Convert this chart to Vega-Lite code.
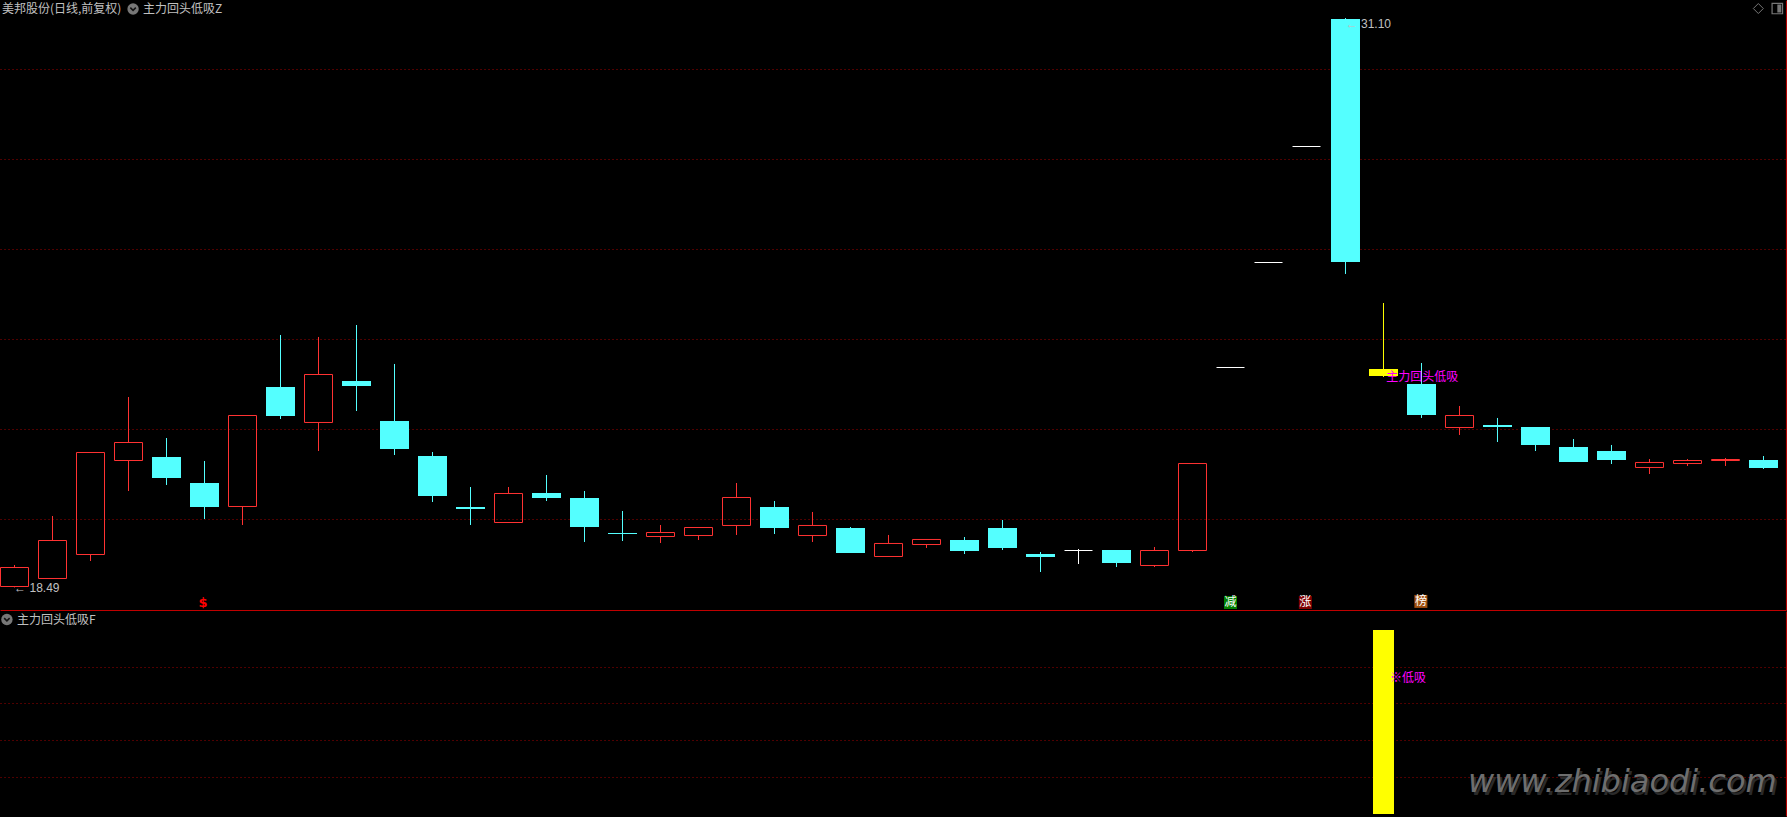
{
"$schema":"https://vega.github.io/schema/vega-lite/v6.json",
"background":"#000000","padding":{"left":0,"right":0,"top":0,"bottom":0},"spacing":0,"bounds":"flush",
"config":{"view":{"stroke":null},"concat":{"spacing":0},"text":{"font":"Noto Sans CJK SC"}},
"datasets":{
"k":[
{"i":0,"k":"up","h":18.989,"t":18.933,"b":18.511,"l":18.49},
{"i":1,"k":"up","h":20.078,"t":19.533,"b":18.689,"l":18.689},
{"i":2,"k":"up","h":21.489,"t":21.489,"b":19.222,"l":19.078},
{"i":3,"k":"up","h":22.722,"t":21.711,"b":21.311,"l":20.633},
{"i":4,"k":"down","h":21.811,"t":21.389,"b":20.922,"l":20.767},
{"i":5,"k":"down","h":21.3,"t":20.811,"b":20.278,"l":20.011},
{"i":6,"k":"up","h":22.311,"t":22.311,"b":20.289,"l":19.878},
{"i":7,"k":"down","h":24.1,"t":22.944,"b":22.3,"l":22.233},
{"i":8,"k":"up","h":24.056,"t":23.222,"b":22.156,"l":21.522},
{"i":9,"k":"down","h":24.322,"t":23.078,"b":22.967,"l":22.411},
{"i":10,"k":"down","h":23.456,"t":22.189,"b":21.567,"l":21.433},
{"i":11,"k":"down","h":21.5,"t":21.411,"b":20.522,"l":20.389},
{"i":12,"k":"down","h":20.722,"t":20.278,"b":20.233,"l":19.878},
{"i":13,"k":"up","h":20.722,"t":20.578,"b":19.933,"l":19.922},
{"i":14,"k":"down","h":20.989,"t":20.589,"b":20.478,"l":20.411},
{"i":15,"k":"down","h":20.633,"t":20.478,"b":19.833,"l":19.5},
{"i":16,"k":"down","h":20.189,"t":19.7,"b":19.678,"l":19.522},
{"i":17,"k":"up","h":19.878,"t":19.711,"b":19.622,"l":19.478},
{"i":18,"k":"up","h":19.822,"t":19.822,"b":19.644,"l":19.544},
{"i":19,"k":"up","h":20.811,"t":20.489,"b":19.867,"l":19.656},
{"i":20,"k":"down","h":20.411,"t":20.278,"b":19.811,"l":19.678},
{"i":21,"k":"up","h":20.167,"t":19.867,"b":19.644,"l":19.5},
{"i":22,"k":"down","h":19.833,"t":19.811,"b":19.256,"l":19.256},
{"i":23,"k":"up","h":19.656,"t":19.467,"b":19.178,"l":19.167},
{"i":24,"k":"up","h":19.556,"t":19.556,"b":19.444,"l":19.367},
{"i":25,"k":"down","h":19.611,"t":19.544,"b":19.3,"l":19.233},
{"i":26,"k":"down","h":19.989,"t":19.811,"b":19.367,"l":19.322},
{"i":27,"k":"down","h":19.278,"t":19.233,"b":19.167,"l":18.833},
{"i":28,"k":"flat","h":19.344,"t":19.322,"b":19.3,"l":19.011},
{"i":29,"k":"down","h":19.322,"t":19.322,"b":19.033,"l":18.944},
{"i":30,"k":"up","h":19.389,"t":19.311,"b":18.978,"l":18.944},
{"i":31,"k":"up","h":21.244,"t":21.244,"b":19.311,"l":19.278},
{"i":32,"k":"flat","h":23.389,"t":23.389,"b":23.367,"l":23.367},
{"i":33,"k":"flat","h":25.722,"t":25.722,"b":25.7,"l":25.7},
{"i":34,"k":"flat","h":28.3,"t":28.3,"b":28.278,"l":28.278},
{"i":35.0263,"k":"down","h":31.144,"t":31.122,"b":25.722,"l":25.456},
{"i":36.0263,"k":"signal","h":24.811,"t":23.344,"b":23.189,"l":23.167},
{"i":37.0263,"k":"down","h":23.478,"t":23.011,"b":22.322,"l":22.256},
{"i":38.0263,"k":"up","h":22.522,"t":22.311,"b":22.044,"l":21.878},
{"i":39.0263,"k":"down","h":22.256,"t":22.1,"b":22.056,"l":21.722},
{"i":40.0263,"k":"down","h":22.056,"t":22.056,"b":21.656,"l":21.522},
{"i":41.0263,"k":"down","h":21.789,"t":21.611,"b":21.278,"l":21.278},
{"i":42.0263,"k":"down","h":21.656,"t":21.522,"b":21.322,"l":21.233},
{"i":43.0263,"k":"up","h":21.344,"t":21.267,"b":21.156,"l":21.011},
{"i":44.0263,"k":"up","h":21.344,"t":21.311,"b":21.244,"l":21.189},
{"i":45.0263,"k":"up","h":21.367,"t":21.333,"b":21.311,"l":21.189},
{"i":46.0263,"k":"down","h":21.411,"t":21.322,"b":21.144,"l":21.122}
],
"texts":[
{"i":-0.33,"p":31.345,"s":"美邦股份(日线,前复权)","c":"#c0c0c0"},
{"i":3.38,"p":31.345,"s":"主力回头低吸Z","c":"#c0c0c0"},
{"i":36.1,"p":23.17,"s":"主力回头低吸","c":"#ff00ff"}
]
},
"vconcat":[
{"width":1787,"height":611,
"layer":[
{"data":{"values":[{"p":20},{"p":22},{"p":24},{"p":26},{"p":28},{"p":30}]},
 "mark":{"type":"rule","color":"#a00000","strokeWidth":1,"strokeDash":[1,3]},
 "encoding":{"x":{"datum":-0.368,"type":"quantitative","scale":{"domain":[-0.38158,46.64474],"nice":false,"zero":false,"padding":0},"axis":null},"x2":{"datum":46.62},
 "y":{"field":"p","type":"quantitative","axis":null,"scale":{"domain":[17.96662,31.5444],"nice":false,"zero":false,"padding":0}}}},
{"data":{"name":"k"},"mark":{"type":"rule","strokeWidth":1},
 "encoding":{"x":{"field":"i","type":"quantitative"},"y":{"field":"h","type":"quantitative"},"y2":{"field":"t"},
 "color":{"field":"k","type":"nominal","legend":null,"scale":{"domain":["up","down","flat","signal"],"range":["#ff3232","#54ffff","#ffffff","#ffff00"]}}}},
{"data":{"name":"k"},"mark":{"type":"rule","strokeWidth":1},
 "encoding":{"x":{"field":"i","type":"quantitative"},"y":{"field":"b","type":"quantitative"},"y2":{"field":"l"},
 "color":{"field":"k","type":"nominal","legend":null}}},
{"data":{"name":"k"},"transform":[{"filter":"datum.k!='up'"}],
 "mark":{"type":"bar","orient":"vertical"},
 "encoding":{"x":{"field":"i","type":"quantitative"},"size":{"condition":{"test":"datum.k=='flat'","value":28},"value":29},
 "y":{"field":"t","type":"quantitative"},"y2":{"field":"b"},
 "fill":{"field":"k","type":"nominal","legend":null,"scale":{"domain":["up","down","flat","signal"],"range":["#ff3232","#54ffff","#ffffff","#ffff00"]}}}},
{"data":{"name":"k"},"transform":[{"filter":"datum.k=='up'"}],
 "mark":{"type":"bar","orient":"vertical","size":28,"fillOpacity":0,"stroke":"#ff3232","strokeWidth":1},
 "encoding":{"x":{"field":"i","type":"quantitative"},"y":{"field":"t","type":"quantitative"},"y2":{"field":"b"}}},
{"data":{"values":[{"i":4.96,"p":18.15,"kind":"s"}]},
 "mark":{"type":"text","text":"$","fontSize":13,"fontWeight":"bold","color":"#ff0000","font":"DejaVu Sans","align":"center","baseline":"middle"},
 "encoding":{"x":{"field":"i","type":"quantitative"},"y":{"field":"p","type":"quantitative"}}},
{"data":{"values":[{"i":32,"p":18.156,"c":"#008000"},{"i":33.97,"p":18.156,"c":"#800000"},{"i":37.01,"p":18.18,"c":"#a05010"}]},
 "mark":{"type":"point","shape":"square","filled":true,"size":169,"opacity":1},
 "encoding":{"x":{"field":"i","type":"quantitative"},"y":{"field":"p","type":"quantitative"},"color":{"field":"c","type":"nominal","scale":null}}},
{"data":{"values":[{"i":32,"p":18.156,"s":"减"},{"i":33.97,"p":18.156,"s":"涨"},{"i":37.01,"p":18.18,"s":"榜"}]},
 "mark":{"type":"text","fontSize":12,"color":"#ffffff","align":"center","baseline":"middle"},
 "encoding":{"x":{"field":"i","type":"quantitative"},"y":{"field":"p","type":"quantitative"},"text":{"field":"s"}}},
{"data":{"name":"texts"},
 "mark":{"type":"text","align":"left","baseline":"middle","fontSize":12},
 "encoding":{"x":{"field":"i","type":"quantitative"},"y":{"field":"p","type":"quantitative"},"text":{"field":"s"},"color":{"field":"c","type":"nominal","scale":null}}},
{"data":{"values":[{"i":-0.01,"p":18.471,"s":"← 18.49"},{"i":35.03,"p":31.004,"s":"← 31.10"}]},
 "mark":{"type":"text","align":"left","baseline":"middle","fontSize":12,"font":"Liberation Sans","color":"#c0c0c0"},
 "encoding":{"x":{"field":"i","type":"quantitative"},"y":{"field":"p","type":"quantitative"},"text":{"field":"s"}}},
{"data":{"values":[{"i":3.12,"p":31.345}]},
 "mark":{"type":"point","shape":"circle","filled":true,"color":"#777777","size":130,"opacity":1},
 "encoding":{"x":{"field":"i","type":"quantitative"},"y":{"field":"p","type":"quantitative"}}},
{"data":{"values":[{"i":3.12,"p":31.345}]},
 "mark":{"type":"point","shape":"M-1,-0.5L0,0.5L1,-0.5","filled":false,"color":"#111111","strokeWidth":1.5,"size":30,"opacity":1},
 "encoding":{"x":{"field":"i","type":"quantitative"},"y":{"field":"p","type":"quantitative"}}},
{"data":{"values":[{"i":45.89,"p":31.355}]},
 "mark":{"type":"point","shape":"diamond","filled":false,"color":"#777777","strokeWidth":1,"size":100,"opacity":1},
 "encoding":{"x":{"field":"i","type":"quantitative"},"y":{"field":"p","type":"quantitative"}}},
{"data":{"values":[{"i":46.39,"p":31.355}]},
 "mark":{"type":"point","shape":"square","filled":false,"color":"#777777","strokeWidth":1.2,"size":110,"opacity":1},
 "encoding":{"x":{"field":"i","type":"quantitative"},"y":{"field":"p","type":"quantitative"}}},
{"data":{"values":[{"i":46.39,"p":31.355}]},
 "mark":{"type":"point","shape":"M0,-1H1V1H0Z","filled":true,"color":"#777777","size":64,"opacity":1},
 "encoding":{"x":{"field":"i","type":"quantitative"},"y":{"field":"p","type":"quantitative"}}},
{"data":{"values":[{"p":17.9777}]},
 "mark":{"type":"rule","color":"#c00000","strokeWidth":1},
 "encoding":{"x":{"datum":-0.368,"type":"quantitative"},"x2":{"datum":46.62},"y":{"field":"p","type":"quantitative"}}},
{"data":{"values":[{"i":46.63,"p":31.53,"p2":17.97}]},
 "mark":{"type":"rule","color":"#c00000","strokeWidth":1},
 "encoding":{"x":{"field":"i","type":"quantitative"},"y":{"field":"p","type":"quantitative"},"y2":{"field":"p2"}}}
]},
{"width":1787,"height":206,
"layer":[
{"data":{"values":[{"v":19.84},{"v":39.95},{"v":60.05},{"v":79.62}]},
 "mark":{"type":"rule","color":"#a00000","strokeWidth":1,"strokeDash":[1,3]},
 "encoding":{"x":{"datum":-0.368,"type":"quantitative","scale":{"domain":[-0.38158,46.64474],"nice":false,"zero":false,"padding":0},"axis":null},"x2":{"datum":46.62},
 "y":{"field":"v","type":"quantitative","axis":null,"scale":{"domain":[-1.63,110.33],"nice":false,"zero":false,"padding":0}}}},
{"data":{"values":[{"i":36.0263,"low":0,"top":100}]},
 "mark":{"type":"bar","orient":"vertical","size":21,"color":"#ffff00"},
 "encoding":{"x":{"field":"i","type":"quantitative"},"y":{"field":"low","type":"quantitative"},"y2":{"field":"top"}}},
{"data":{"values":[{"i":36.2,"v":73.9,"s":"※低吸"}]},
 "mark":{"type":"text","align":"left","baseline":"middle","fontSize":12,"color":"#ff00ff"},
 "encoding":{"x":{"field":"i","type":"quantitative"},"y":{"field":"v","type":"quantitative"},"text":{"field":"s"}}},
{"data":{"values":[{"i":-0.2,"v":105.7}]},
 "mark":{"type":"point","shape":"circle","filled":true,"color":"#777777","size":130,"opacity":1},
 "encoding":{"x":{"field":"i","type":"quantitative"},"y":{"field":"v","type":"quantitative"}}},
{"data":{"values":[{"i":-0.2,"v":105.7}]},
 "mark":{"type":"point","shape":"M-1,-0.5L0,0.5L1,-0.5","filled":false,"color":"#111111","strokeWidth":1.5,"size":30,"opacity":1},
 "encoding":{"x":{"field":"i","type":"quantitative"},"y":{"field":"v","type":"quantitative"}}},
{"data":{"values":[{"i":0.066,"v":105.7,"s":"主力回头低吸F"}]},
 "mark":{"type":"text","align":"left","baseline":"middle","fontSize":12,"color":"#c0c0c0"},
 "encoding":{"x":{"field":"i","type":"quantitative"},"y":{"field":"v","type":"quantitative"},"text":{"field":"s"}}},
{"data":{"values":[{"i":38.31,"v":15.9,"s":"www.zhibiaodi.com"}]},
 "mark":{"type":"text","align":"left","baseline":"middle","fontSize":32,"fontStyle":"italic","font":"DejaVu Sans","color":"#2a2a2a"},
 "encoding":{"x":{"field":"i","type":"quantitative"},"y":{"field":"v","type":"quantitative"},"text":{"field":"s"}}},
{"data":{"values":[{"i":38.25,"v":17.5,"s":"www.zhibiaodi.com"}]},
 "mark":{"type":"text","align":"left","baseline":"middle","fontSize":32,"fontStyle":"italic","font":"DejaVu Sans","color":"#6e6e6e"},
 "encoding":{"x":{"field":"i","type":"quantitative"},"y":{"field":"v","type":"quantitative"},"text":{"field":"s"}}},
{"data":{"values":[{"i":46.63,"v":110,"v2":-1.3}]},
 "mark":{"type":"rule","color":"#c00000","strokeWidth":1},
 "encoding":{"x":{"field":"i","type":"quantitative"},"y":{"field":"v","type":"quantitative"},"y2":{"field":"v2"}}}
]}
]
}
